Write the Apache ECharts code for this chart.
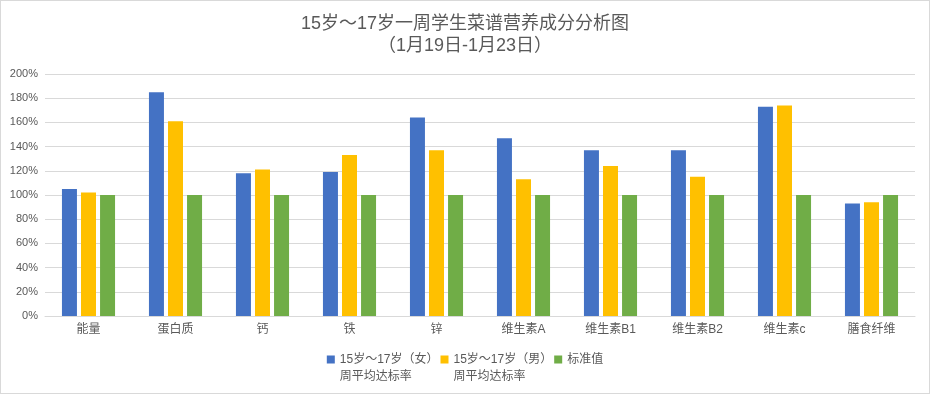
<!DOCTYPE html>
<html><head><meta charset="utf-8">
<script src="https://cdn.jsdelivr.net/npm/echarts@6/dist/echarts.min.js"></script>
<style>html,body{margin:0;padding:0;background:#fff}#c{width:928px;height:392px;border:1px solid #d9d9d9}</style>
</head><body><div id="c"></div>
<script>
const categories = ['能量','蛋白质','钙','铁','锌','维生素A','维生素B1','维生素B2','维生素c','膳食纤维'];
const female = [105,185,118,119,164,147,137,137,173,93];
const male = [102,161,121,133,137,113,124,115,174,94];
const standard = [100,100,100,100,100,100,100,100,100,100];
const seriesNames = ['15岁～17岁（女）\n周平均达标率','15岁～17岁（男）\n周平均达标率','标准值'];
const yTicks = {min:0,max:200,interval:20};
const font = '"Liberation Sans","Noto Sans CJK SC",sans-serif';
const topIcon = 'path://M0,0L8,0L8,8L0,8Z M0,25L0.01,25L0.01,25.01Z';
const chart = echarts.init(document.getElementById('c'));
chart.setOption({
  animation:false,
  textStyle:{fontFamily:font},
  title:{text:'15岁～17岁一周学生菜谱营养成分分析图\n（1月19日-1月23日）',left:'center',top:7,
    textStyle:{fontSize:18,fontWeight:'normal',color:'#595959',lineHeight:22,fontFamily:font}},
  grid:{left:44,right:14,top:73,bottom:77},
  legend:{bottom:3,left:'center',itemWidth:8,itemHeight:25,icon:topIcon,itemGap:2,
    formatter:function(n){return n.indexOf('\n')>=0?n:n+'\n\u3000';},
    textStyle:{fontSize:12,color:'#595959',lineHeight:17,fontFamily:font},
    data:seriesNames},
  xAxis:{type:'category',data:categories,
    axisLine:{lineStyle:{color:'#d9d9d9'}},axisTick:{show:false},
    axisLabel:{color:'#595959',fontSize:12,margin:8}},
  yAxis:{type:'value',min:yTicks.min,max:yTicks.max,interval:yTicks.interval,
    axisLabel:{formatter:'{value}%',color:'#595959',fontSize:11,margin:7},
    splitLine:{lineStyle:{color:'#d9d9d9'}},axisLine:{show:false},axisTick:{show:false}},
  series:[
    {name:seriesNames[0],type:'bar',data:female,barWidth:15,barGap:'27%',itemStyle:{color:'#4472c4'}},
    {name:seriesNames[1],type:'bar',data:male,barWidth:15,barGap:'27%',itemStyle:{color:'#ffc000'}},
    {name:seriesNames[2],type:'bar',data:standard,barWidth:15,barGap:'27%',itemStyle:{color:'#70ad47'}}
  ]
});
</script></body></html>
